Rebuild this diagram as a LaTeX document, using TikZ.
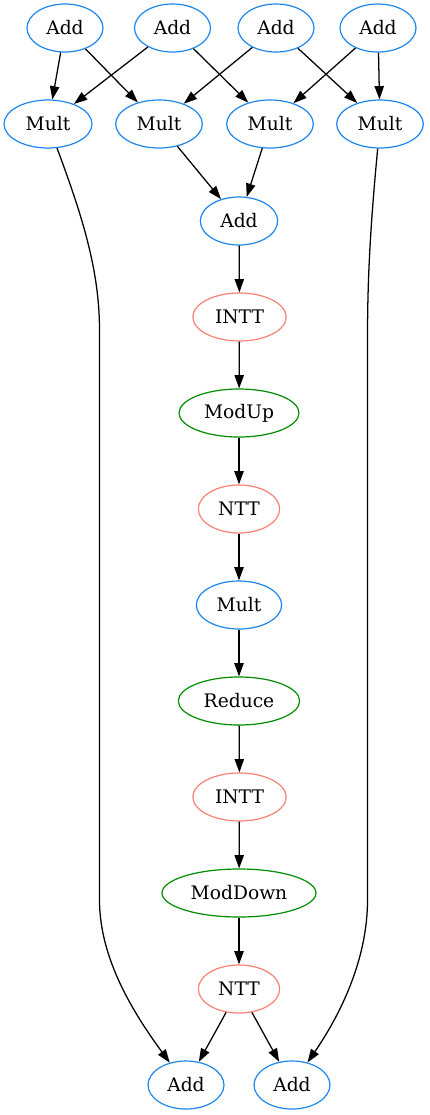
\documentclass[tikz,border=0pt]{standalone}
\usepackage{fontspec}
\setmainfont{DejaVu Serif}
\usetikzlibrary{shapes.geometric,arrows.meta}
\definecolor{cblue}{HTML}{1C86EE}
\definecolor{cred}{HTML}{FA8072}
\definecolor{cgreen}{HTML}{008B00}
\begin{document}
\begin{tikzpicture}[x=0.75pt,y=-0.75pt,
  op/.style={ellipse,draw,line width=0.9pt,inner sep=0pt,minimum height=36pt,font=\fontsize{14pt}{16pt}\selectfont},
  blueop/.style={op,draw=cblue},
  redop/.style={op,draw=cred},
  greenop/.style={op,draw=cgreen},
  edge/.style={line width=0.95pt,-{Triangle[length=10pt,width=7pt]}}]
\useasboundingbox (0,0) rectangle (429,1115);
% top adds
\node[blueop,minimum width=57pt] (a1) at (65,28) {Add};
\node[blueop,minimum width=57pt] (a2) at (172.5,28) {Add};
\node[blueop,minimum width=57pt] (a3) at (276,28) {Add};
\node[blueop,minimum width=57pt] (a4) at (378,28) {Add};
% mults
\node[blueop,minimum width=66pt] (m1) at (48,124) {Mult};
\node[blueop,minimum width=65pt] (m2) at (159,124) {Mult};
\node[blueop,minimum width=65pt] (m3) at (270,124) {Mult};
\node[blueop,minimum width=65pt] (m4) at (380,124) {Mult};
% chain
\node[blueop,minimum width=58pt] (add) at (239,221) {Add};
\node[redop,minimum width=70pt] (intt1) at (239.5,317) {INTT};
\node[greenop,minimum width=90pt] (modup) at (239,413) {ModUp};
\node[redop,minimum width=61pt] (ntt1) at (239,509) {NTT};
\node[blueop,minimum width=64pt] (mult) at (239,605) {Mult};
\node[greenop,minimum width=91pt] (reduce) at (239,701) {Reduce};
\node[redop,minimum width=70pt] (intt2) at (239.5,797) {INTT};
\node[greenop,minimum width=115.5pt] (moddown) at (239,893) {ModDown};
\node[redop,minimum width=61pt] (ntt2) at (239,989) {NTT};
\node[blueop,minimum width=57pt] (b1) at (186,1085) {Add};
\node[blueop,minimum width=57pt] (b2) at (292,1085) {Add};
% edges top
\draw[edge] (a1) -- (m1);
\draw[edge] (a1) -- (m2);
\draw[edge] (a2) -- (m1);
\draw[edge] (a2) -- (m3);
\draw[edge] (a3) -- (m2);
\draw[edge] (a3) -- (m4);
\draw[edge] (a4) -- (m3);
\draw[edge] (a4) -- (m4);
\draw[edge] (m2) -- (add);
\draw[edge] (m3) -- (add);
\draw[edge] (add) -- (intt1);
\draw[edge] (intt1) -- (modup);
\draw[edge] (modup) -- (ntt1);
\draw[edge] (ntt1) -- (mult);
\draw[edge] (mult) -- (reduce);
\draw[edge] (reduce) -- (intt2);
\draw[edge] (intt2) -- (moddown);
\draw[edge] (moddown) -- (ntt2);
\draw[edge] (ntt2) -- (b1);
\draw[edge] (ntt2) -- (b2);
% long edges
\draw[edge] (m1) .. controls (82,215) and (99.5,270) .. (99.5,330) -- (99.5,900) .. controls (99.5,960) and (135,1015) .. (b1);
\draw[edge] (m4) .. controls (370,230) and (367.5,280) .. (367.5,340) -- (367.5,900) .. controls (367.5,960) and (340,1015) .. (b2);
\end{tikzpicture}
\end{document}
